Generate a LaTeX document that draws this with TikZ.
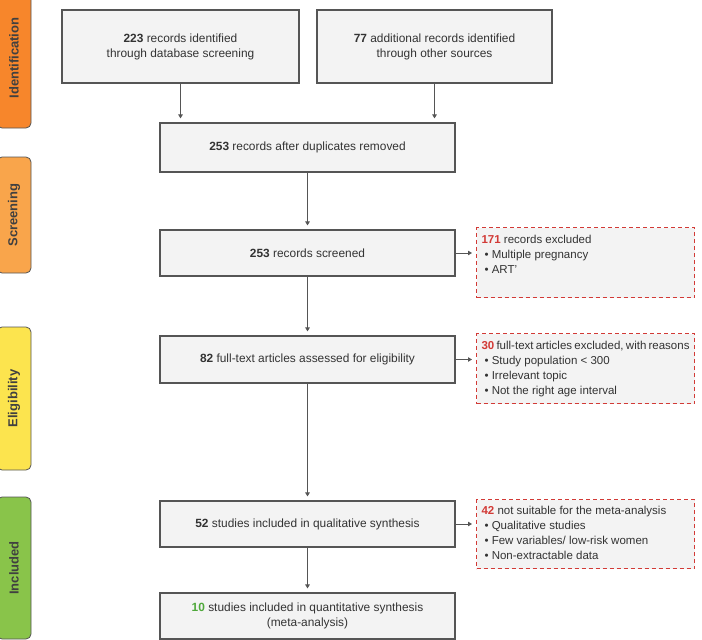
\documentclass[tikz,border=0pt]{standalone}
\usepackage{fontspec}
\setmainfont{Liberation Sans}
\usepackage{xcolor}
\usetikzlibrary{arrows.meta,positioning}

\definecolor{boxgray}{HTML}{F3F3F3}
\definecolor{linegray}{HTML}{555555}
\definecolor{txtgray}{HTML}{333333}
\definecolor{exclred}{HTML}{D23A36}
\definecolor{numgreen}{HTML}{4EA83A}
\definecolor{idcol}{HTML}{F7862B}
\definecolor{scrcol}{HTML}{F9A54B}
\definecolor{elicol}{HTML}{FCE44E}
\definecolor{inccol}{HTML}{89C44A}

\newcommand{\nred}[1]{\textbf{\color{exclred}#1}}
\newcommand{\bul}{\hspace*{3pt}\textbullet\ }

\begin{document}
\begin{tikzpicture}[
			x = 1pt, y = -1pt,
			every node/.style = {font=\fontsize{11.5}{15}\selectfont, text=txtgray},
			stage/.style = {draw=linegray, line width=.8pt, rounded corners=5pt, rotate=90,
				minimum height=34pt, inner sep=0pt, text=black!75, font=\fontsize{13}{15}\selectfont\bfseries},
			box/.style = {draw=linegray, fill=boxgray, line width=1.1pt, align=center,
				minimum width=295pt, minimum height=47pt, inner sep=0pt, font=\fontsize{11.9}{15}\selectfont},
			excl/.style = {draw=exclred, fill=boxgray, line width=1.1pt, dash pattern=on 4pt off 3pt,
				anchor=north west, inner xsep=5pt, inner ysep=6pt},
			arr/.style = {draw=linegray, line width=.9pt, -{Triangle[length=4pt,width=4.5pt]}, shorten >=4pt}
		]

			\useasboundingbox (0,0) rectangle (702,640);

			% stages
			\node[stage, fill=idcol, minimum width=140pt] (ident) at (14,58) {Identification};
			\node[stage, fill=scrcol, minimum width=116pt] (scr) at (14,215) {Screening};
			\node[stage, fill=elicol, minimum width=143pt] (elig) at (14,398.5) {Eligibility};
			\node[stage, fill=inccol, minimum width=142pt] (incl) at (14,568) {Included};

			% main flow
			\node[box, minimum width=237pt, minimum height=73pt] (db) at (180.5,46.5) {\textbf{223} records identified\\through database screening};
			\node[box, minimum width=235pt, minimum height=73pt] (other) at (434.5,46.5) {\textbf{77} additional records identified\\through other sources};
			\node[box, minimum height=49pt] (dup) at (307.5,147.5) {\textbf{253} records after duplicates removed};
			\node[box, minimum height=46pt] (screened) at (307.5,253) {\textbf{253} records screened};
			\node[box] (full) at (307.5,359.5) {\textbf{82} full-text articles assessed for eligibility};
			\node[box, minimum height=46pt] (qual) at (307.5,524) {\textbf{52} studies included in qualitative synthesis};
			\node[box, minimum height=46pt] (quant) at (307.5,616) {{\color{numgreen}\textbf{10}} studies included in quantitative synthesis\\(meta-analysis)};

			% exclusions
			\node[excl] (ex1) at (476,227) {\parbox[t][58pt][t]{208pt}{\vspace*{2pt}\nred{171} records excluded\\\bul Multiple pregnancy\\\bul ART'}};
			\node[excl] (ex2) at (476,333) {\parbox[t][58pt][t]{208pt}{\vspace*{2pt}\nred{30} full-text articles excluded, with reasons\\\bul Study population < 300\\\bul Irrelevant topic\\\bul Not the right age interval}};
			\node[excl] (ex3) at (476,499) {\parbox[t][57pt][t]{208pt}{\vspace*{1pt}\nred{42} not suitable for the meta-analysis\\\bul Qualitative studies\\\bul Few variables/ low-risk women\\\bul Non-extractable data}};

			% arrows
			\draw[arr] (db) -- (db |- dup.north);
			\draw[arr] (other) -- (other |- dup.north);
			\draw[arr] (dup) -- (screened);
			\draw[arr] (screened) -- (full);
			\draw[arr] (full) -- (qual);
			\draw[arr] (qual) -- (quant);
			\draw[arr] (screened.east) -- (screened.east -| ex1.west);
			\draw[arr] (full.east) -- (full.east -| ex2.west);
			\draw[arr] (qual.east) -- (qual.east -| ex3.west);

		\end{tikzpicture}
\end{document}
